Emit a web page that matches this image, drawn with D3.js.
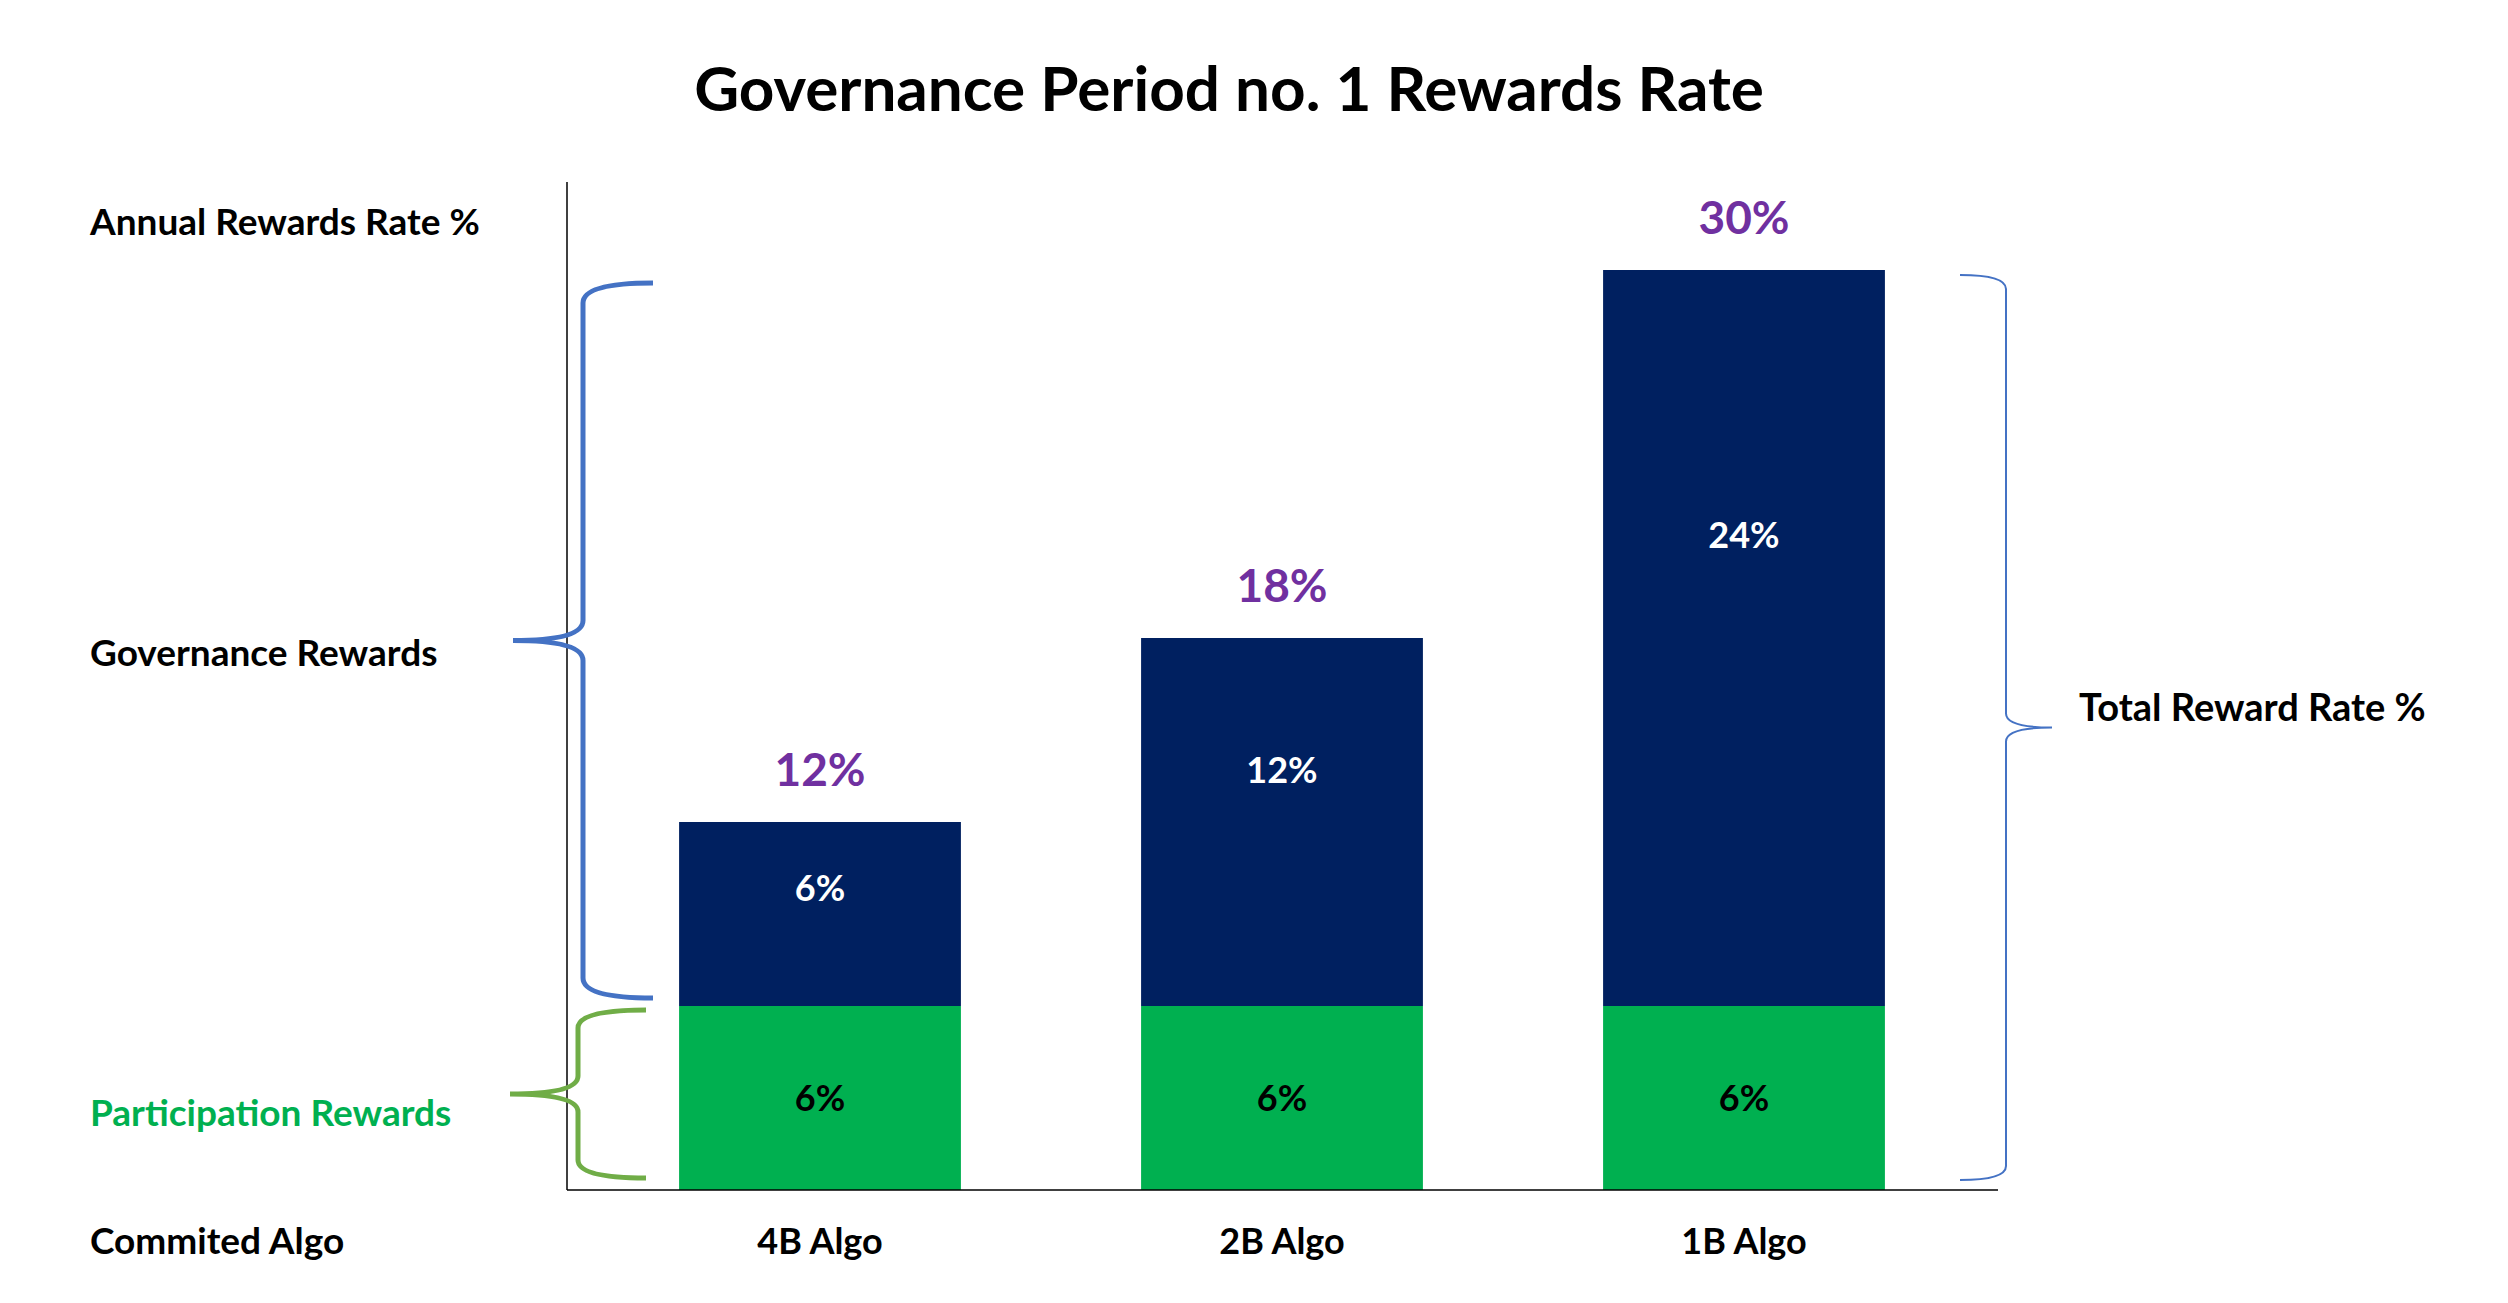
<!DOCTYPE html>
<html lang="en">
<head>
  <meta charset="UTF-8" />
  <title>Governance Period no. 1 Rewards Rate</title>
  <style>
    html, body { margin: 0; padding: 0; background: #fff; }
    svg { display: block; }
    text { font-family: Lato, "Open Sans", sans-serif; font-weight: 700; }
  </style>
</head>
<body>
  <svg id="chart"></svg>

  <script src="https://d3js.org/d3.v7.min.js"></script>
  <script>
    // data
    const categories = ["4B Algo", "2B Algo", "1B Algo"];
    const participation = [6, 6, 6];
    const governance = [6, 12, 24];
    const totals = [12, 18, 30];

    const W = 2508, H = 1303;
    const plot = { left: 567, right: 1998, top: 182, bottom: 1190 };

    const navy = "#002060", green = "#00B050", purple = "#7030A0";
    const blue = "#4472C4", braceGreen = "#70AD47";

    const svg = d3.select("#chart")
      .attr("width", W)
      .attr("height", H);

    const x = d3.scaleBand()
      .domain(categories)
      .range([plot.left + 22, plot.right - 23])
      .paddingInner(0.39)
      .paddingOuter(0.195);

    const y = d3.scaleLinear()
      .domain([0, 30])
      .range([plot.bottom, 270]);

    const rows = categories.map((c, i) => ({
      cat: c, part: participation[i], gov: governance[i], total: totals[i]
    }));

    // title
    svg.append("text")
      .attr("x", 1229)
      .attr("y", 111)
      .attr("text-anchor", "middle")
      .attr("font-size", 62)
      .attr("fill", "#000")
      .text("Governance Period no. 1 Rewards Rate");

    // bars
    const g = svg.append("g");

    g.selectAll(".part")
      .data(rows)
      .join("rect")
      .attr("class", "part")
      .attr("x", d => x(d.cat))
      .attr("width", x.bandwidth())
      .attr("y", d => y(d.part))
      .attr("height", d => y(0) - y(d.part))
      .attr("fill", green);

    g.selectAll(".gov")
      .data(rows)
      .join("rect")
      .attr("class", "gov")
      .attr("x", d => x(d.cat))
      .attr("width", x.bandwidth())
      .attr("y", d => y(d.part + d.gov))
      .attr("height", d => y(d.part) - y(d.part + d.gov))
      .attr("fill", navy);

    // value labels
    g.selectAll(".part-label")
      .data(rows)
      .join("text")
      .attr("class", "part-label")
      .attr("x", d => x(d.cat) + x.bandwidth() / 2)
      .attr("y", d => y(d.part / 2) + 13)
      .attr("text-anchor", "middle")
      .attr("font-size", 36)
      .attr("fill", "#000")
      .text(d => d.part + "%");

    g.selectAll(".gov-label")
      .data(rows)
      .join("text")
      .attr("class", "gov-label")
      .attr("x", d => x(d.cat) + x.bandwidth() / 2)
      .attr("y", d => y(d.part + d.gov * 0.64) + 13)
      .attr("text-anchor", "middle")
      .attr("font-size", 36)
      .attr("fill", "#fff")
      .text(d => d.gov + "%");

    g.selectAll(".total-label")
      .data(rows)
      .join("text")
      .attr("class", "total-label")
      .attr("x", d => x(d.cat) + x.bandwidth() / 2)
      .attr("y", d => y(d.total) - 36)
      .attr("text-anchor", "middle")
      .attr("font-size", 46)
      .attr("fill", purple)
      .text(d => d.total + "%");

    // axes lines
    svg.append("line")
      .attr("x1", plot.left).attr("x2", plot.left)
      .attr("y1", plot.top).attr("y2", plot.bottom)
      .attr("stroke", "#000").attr("stroke-width", 1.5);

    svg.append("line")
      .attr("x1", plot.left).attr("x2", plot.right)
      .attr("y1", plot.bottom).attr("y2", plot.bottom)
      .attr("stroke", "#000").attr("stroke-width", 1.5);

    // category labels
    const xAxis = svg.append("g")
      .attr("transform", `translate(0,${plot.bottom})`)
      .call(d3.axisBottom(x).tickSize(0).tickPadding(38));
    xAxis.select(".domain").remove();
    xAxis.selectAll("text")
      .attr("font-family", "Lato, sans-serif")
      .attr("font-weight", 700)
      .attr("font-size", 36)
      .attr("fill", "#000");

    // left row labels
    const sideLabels = [
      { text: "Annual Rewards Rate %", y: 235, color: "#000" },
      { text: "Governance Rewards", y: 666, color: "#000" },
      { text: "Participation Rewards", y: 1126, color: green },
      { text: "Commited Algo", y: 1254, color: "#000" }
    ];
    svg.selectAll(".side")
      .data(sideLabels)
      .join("text")
      .attr("class", "side")
      .attr("x", 90)
      .attr("y", d => d.y)
      .attr("font-size", 37)
      .attr("fill", d => d.color)
      .text(d => d.text);

    svg.append("text")
      .attr("x", 2079)
      .attr("y", 721)
      .attr("font-size", 38)
      .attr("fill", "#000")
      .text("Total Reward Rate %");

    // curly brace: open ends at xEnd, spine at xSpine, point at xTip
    function brace(xEnd, xSpine, xTip, y0, y1, r) {
      const ym = (y0 + y1) / 2;
      const p = d3.path();
      p.moveTo(xEnd, y0);
      p.quadraticCurveTo(xSpine, y0, xSpine, y0 + r);
      p.lineTo(xSpine, ym - r);
      p.quadraticCurveTo(xSpine, ym, xTip, ym);
      p.moveTo(xTip, ym);
      p.quadraticCurveTo(xSpine, ym, xSpine, ym + r);
      p.lineTo(xSpine, y1 - r);
      p.quadraticCurveTo(xSpine, y1, xEnd, y1);
      return p.toString();
    }

    const maxTotal = d3.max(totals);
    const partTop = d3.max(participation);

    svg.append("path")
      .attr("d", brace(653, 583, 513, y(maxTotal) + 13, y(partTop) - 8, 20))
      .attr("fill", "none")
      .attr("stroke", blue)
      .attr("stroke-width", 5);

    svg.append("path")
      .attr("d", brace(646, 578, 510, y(partTop) + 4, y(0) - 12, 18))
      .attr("fill", "none")
      .attr("stroke", braceGreen)
      .attr("stroke-width", 5);

    svg.append("path")
      .attr("d", brace(1960, 2006, 2052, y(maxTotal) + 5, y(0) - 10, 14))
      .attr("fill", "none")
      .attr("stroke", blue)
      .attr("stroke-width", 2);
  </script>
</body>
</html>
